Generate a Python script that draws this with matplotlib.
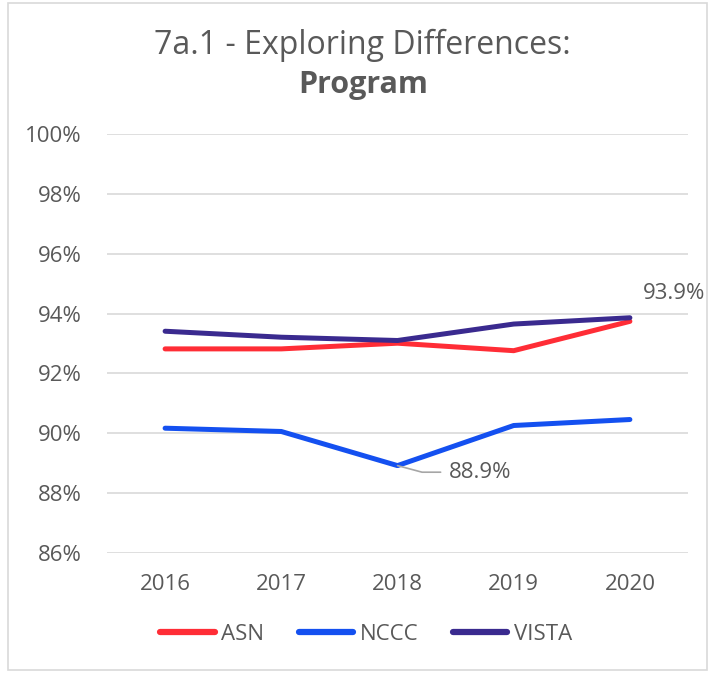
import matplotlib
matplotlib.use("Agg")
import matplotlib.pyplot as plt
from matplotlib.patches import Rectangle

years = ["2016", "2017", "2018", "2019", "2020"]
asn = [92.82, 92.82, 93.01, 92.76, 93.74]
nccc = [90.17, 90.06, 88.92, 90.26, 90.46]
vista = [93.41, 93.21, 93.10, 93.65, 93.86]
yticks = [86, 88, 90, 92, 94, 96, 98, 100]

plt.rcParams['font.family'] = ['Open Sans', 'DejaVu Sans']
TXT = '#595959'

fig = plt.figure(figsize=(7.1, 6.73), dpi=100)
fig.patches.append(Rectangle((0.0115, 0.004), 0.984, 0.991, transform=fig.transFigure,
                             fill=False, edgecolor='#d9d9d9', linewidth=1.2))
ax = fig.add_axes([0.1507, 0.1783, 0.8183, 0.6226])

x = list(range(len(years)))
ax.plot(x, asn, color='#ff2d36', lw=3.6, label='ASN', solid_capstyle='round', zorder=3)
ax.plot(x, nccc, color='#1450f0', lw=3.6, label='NCCC', solid_capstyle='round', zorder=3)
ax.plot(x, vista, color='#3a2a8f', lw=3.6, label='VISTA', solid_capstyle='round', zorder=4)

ax.set_xlim(-0.5, 4.5)
ax.set_ylim(86, 100)
ax.set_yticks(yticks)
ax.set_yticklabels([f"{v}%" for v in yticks])
ax.set_xticks(x)
ax.set_xticklabels(years)
ax.grid(axis='y', color='#d9d9d9', lw=1.2)
ax.set_axisbelow(True)
for s in ax.spines.values():
    s.set_visible(False)
ax.tick_params(length=0, colors=TXT, labelsize=16)
ax.tick_params(axis='x', pad=15)
ax.tick_params(axis='y', pad=18)

# data labels
ax.annotate("93.9%", xy=(4, vista[4]), xytext=(4.113, 94.67), color=TXT, fontsize=16,
            ha='left', va='center')
ax.annotate("88.9%", xy=(2, nccc[2]), xytext=(2.443, 88.70), color=TXT, fontsize=16,
            ha='left', va='center',
            arrowprops=dict(arrowstyle='-', color='#a6a6a6', lw=1.2,
                            connectionstyle='angle,angleA=0,angleB=-15,rad=0',
                            shrinkA=4, shrinkB=0))

fig.text(0.511, 0.933, "7a.1 - Exploring Differences:", ha='center', va='center',
         fontsize=23, color=TXT)
fig.text(0.511, 0.873, "Program", ha='center', va='center', fontsize=22,
         fontweight='bold', color=TXT)

leg = fig.legend(loc='center', bbox_to_anchor=(0.516, 0.057), ncol=3, frameon=False,
                 fontsize=16, handlelength=2.45, columnspacing=1.55, handletextpad=0.3)
for t in leg.get_texts():
    t.set_color(TXT)
for h in leg.get_lines():
    h.set_linewidth(4.5)
    h.set_solid_capstyle('round')

fig.savefig("out.png", dpi=100)
